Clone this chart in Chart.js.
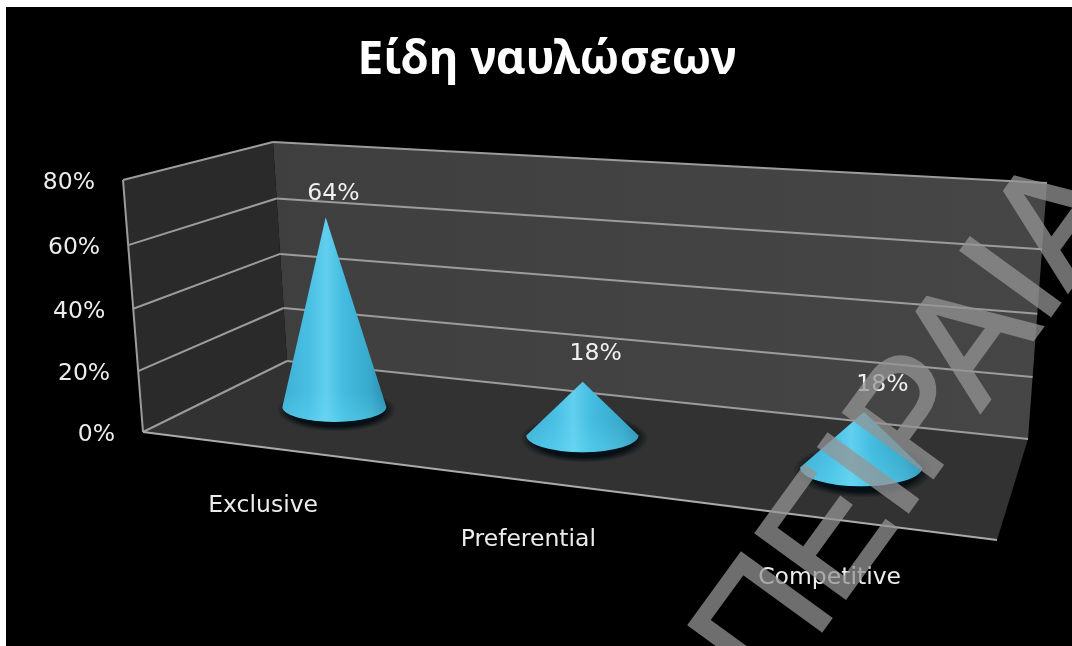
<!DOCTYPE html>
<html lang="el">
<head>
<meta charset="utf-8">
<title>Είδη ναυλώσεων</title>
<style>
  html, body { margin: 0; padding: 0; background: #fff; overflow: hidden; }
  #wrap { position: relative; width: 1072px; height: 646px; }
</style>
<script src="https://cdn.jsdelivr.net/npm/chart.js@4/dist/chart.umd.js"></script>
</head>
<body>
<div id="wrap"><canvas id="chart" width="1072" height="646"></canvas></div>
<script>
// Chart content
const chartTitle = 'Είδη ναυλώσεων';
const categories = ['Exclusive', 'Preferential', 'Competitive'];
const shareValues = [64, 18, 18];
const axisMax = 80;
const axisStep = 20;
const stampText = 'ΠΕΙΡΑΙΑ';

// Corners of the 3D box on the canvas: floor quad and the upward edge vectors
const FLOOR = { bl: [287, 361], br: [1028, 439], fr: [997, 540], fl: [143, 432] };
const RISE = { bl: [-14, -219], br: [19, -256], fr: [20, -262], fl: [-20, -252] };
const CONE_DEPTH = 0.5;
const FONT = '"DejaVu Sans", sans-serif';
const TEXT_SIZE = 23.5;

// Unit square to quad homography
function unitToQuad(q) {
  const [x0, y0] = q.bl, [x1, y1] = q.br, [x2, y2] = q.fr, [x3, y3] = q.fl;
  const dx1 = x1 - x2, dx2 = x3 - x2, sx = x0 - x1 + x2 - x3;
  const dy1 = y1 - y2, dy2 = y3 - y2, sy = y0 - y1 + y2 - y3;
  const den = dx1 * dy2 - dx2 * dy1;
  const g = (sx * dy2 - dx2 * sy) / den;
  const h = (dx1 * sy - sx * dy1) / den;
  const a = x1 - x0 + g * x1, b = x3 - x0 + h * x3;
  const d = y1 - y0 + g * y1, e = y3 - y0 + h * y3;
  return (u, w) => {
    const s = g * u + h * w + 1;
    return [(a * u + b * w + x0) / s, (d * u + e * w + y0) / s];
  };
}
const floorAt = unitToQuad(FLOOR);

function lerp(a, b, t) { return a + (b - a) * t; }

// Project (along category axis, into the depth, up the value axis) to canvas
function project(u, w, v) {
  const base = floorAt(u, w);
  const lift = v / (1 + 0.045 * (1 - v));
  const rx = lerp(lerp(RISE.bl[0], RISE.br[0], u), lerp(RISE.fl[0], RISE.fr[0], u), w);
  const ry = lerp(lerp(RISE.bl[1], RISE.br[1], u), lerp(RISE.fl[1], RISE.fr[1], u), w);
  return [base[0] + rx * lift, base[1] + ry * lift];
}

function polygon(ctx, pts) {
  ctx.beginPath();
  pts.forEach((p, i) => (i ? ctx.lineTo(p[0], p[1]) : ctx.moveTo(p[0], p[1])));
  ctx.closePath();
}

function line(ctx, a, b) {
  ctx.beginPath();
  ctx.moveTo(a[0], a[1]);
  ctx.lineTo(b[0], b[1]);
  ctx.stroke();
}

// Cone series: a bar controller whose rectangles are drawn as cones on the floor
class ConeController extends Chart.BarController {
  static id = 'cone';
  static defaults = { ...Chart.BarController.defaults };

  draw() {
    const ctx = this.chart.ctx;
    const area = this.chart.chartArea;
    const bars = this.getMeta().data;
    bars.forEach((bar, i) => {
      const u = (bar.x - area.left) / area.width;
      const v = (bar.base - bar.y) / area.height;
      const halfU = bar.width / 2 / area.width;
      const c = floorAt(u, CONE_DEPTH);
      // base widths vary less with depth than the floor projection alone
      const spanX = Math.abs(floorAt(u + halfU, CONE_DEPTH)[0] - floorAt(u - halfU, CONE_DEPTH)[0]) / 2;
      const rx = 0.7 * spanX + 17.5;
      const ry = Math.abs(floorAt(u, CONE_DEPTH + 0.2)[1] - floorAt(u, CONE_DEPTH - 0.2)[1]) / 2;
      const apex = project(u, CONE_DEPTH, v);
      drawCone(ctx, c[0], c[1], rx, ry, apex);

      ctx.save();
      ctx.font = TEXT_SIZE + 'px ' + FONT;
      ctx.fillStyle = '#f0f0f0';
      ctx.textAlign = 'center';
      ctx.textBaseline = 'middle';
      ctx.fillText(shareValues[i] + '%', apex[0] + lerp(5, 21, u), apex[1] - lerp(20.5, 27.5, Math.min(1, u * 2)));
      ctx.restore();
    });
  }
}
Chart.register(ConeController);

function drawCone(ctx, cx, cy, rx, ry, apex) {
  // soft contact shadow, slightly toward the lower right
  ctx.save();
  ctx.translate(cx + 2, cy + 3);
  ctx.scale(rx * 1.15, ry * 1.45);
  const halo = ctx.createRadialGradient(0, 0, 0, 0, 0, 1);
  halo.addColorStop(0, 'rgba(3,14,20,1)');
  halo.addColorStop(0.78, 'rgba(3,14,20,0.95)');
  halo.addColorStop(1, 'rgba(10,14,16,0)');
  ctx.fillStyle = halo;
  ctx.beginPath();
  ctx.arc(0, 0, 1, 0, Math.PI * 2);
  ctx.fill();
  ctx.restore();

  const outline = () => {
    ctx.beginPath();
    ctx.moveTo(apex[0], apex[1]);
    ctx.lineTo(cx - rx, cy);
    ctx.ellipse(cx, cy, rx, ry, 0, Math.PI, 0, true);
    ctx.closePath();
  };

  const body = ctx.createLinearGradient(cx - rx, 0, cx + rx, 0);
  body.addColorStop(0, '#3fb0d4');
  body.addColorStop(0.25, '#47bfe3');
  body.addColorStop(0.42, '#62cfee');
  body.addColorStop(0.58, '#44bde0');
  body.addColorStop(0.85, '#38a8cb');
  body.addColorStop(1, '#2b8db0');
  ctx.fillStyle = body;
  outline();
  ctx.fill();

  const glow = ctx.createLinearGradient(0, cy - ry, 0, cy + ry);
  glow.addColorStop(0, 'rgba(110,225,250,0)');
  glow.addColorStop(1, 'rgba(110,225,250,0.3)');
  ctx.fillStyle = glow;
  outline();
  ctx.fill();
}

// Backdrop, gridlines and axis text laid out in perspective from the scales
const boxPlugin = {
  id: 'box3d',
  beforeDraw(chart) {
    const ctx = chart.ctx;
    ctx.save();
    ctx.fillStyle = '#fff';
    ctx.fillRect(0, 0, chart.width, chart.height);
    ctx.fillStyle = '#000';
    ctx.fillRect(6, 7, chart.width - 6, chart.height - 7);
    ctx.restore();
  },
  beforeDatasetsDraw(chart) {
    const ctx = chart.ctx;
    const area = chart.chartArea;
    const yScale = chart.scales.y;
    const xScale = chart.scales.x;
    ctx.save();

    // floor
    ctx.fillStyle = '#323232';
    polygon(ctx, [project(0, 0, 0), project(1, 0, 0), project(1, 1, 0), project(0, 1, 0)]);
    ctx.fill();

    // back wall
    const back = ctx.createLinearGradient(273, 0, 1047, 0);
    back.addColorStop(0, '#3f3f3f');
    back.addColorStop(1, '#464646');
    ctx.fillStyle = back;
    polygon(ctx, [project(0, 0, 0), project(1, 0, 0), project(1, 0, 1), project(0, 0, 1)]);
    ctx.fill();

    // side wall
    ctx.fillStyle = '#2a2a2a';
    polygon(ctx, [project(0, 0, 0), project(0, 1, 0), project(0, 1, 1), project(0, 0, 1)]);
    ctx.fill();

    // gridlines and value labels
    ctx.strokeStyle = '#9c9c9c';
    ctx.lineWidth = 2;
    ctx.font = TEXT_SIZE + 'px ' + FONT;
    ctx.textAlign = 'right';
    ctx.textBaseline = 'middle';
    yScale.ticks.forEach((tick, i) => {
      const v = (area.bottom - yScale.getPixelForTick(i)) / area.height;
      const front = project(0, 1, v);
      const corner = project(0, 0, v);
      line(ctx, front, corner);
      line(ctx, corner, project(1, 0, v));
      ctx.fillStyle = '#ececec';
      ctx.fillText(tick.label, front[0] - 28, front[1] + 3);
    });

    // box edges
    line(ctx, project(0, 1, 0), project(0, 1, 1));
    ctx.strokeStyle = '#ababab';
    line(ctx, project(0, 1, 0), project(1, 1, 0));

    // category labels below the front edge
    ctx.textAlign = 'center';
    ctx.fillStyle = '#ececec';
    xScale.ticks.forEach((tick, i) => {
      const u = (xScale.getPixelForTick(i) - area.left) / area.width;
      const p = floorAt(u, 1);
      ctx.fillText(tick.label, p[0] - 1, p[1] + 59);
    });
    ctx.restore();
  },
  afterDraw(chart) {
    // diagonal stamp across the whole image, drawn on its own layer so that
    // the thickened glyph outline does not darken where it overlaps the fill
    const layer = document.createElement('canvas');
    layer.width = chart.width;
    layer.height = chart.height;
    const g = layer.getContext('2d');
    g.translate(771, 700);
    g.rotate(-54 * Math.PI / 180);
    g.scale(0.985, 1);
    g.font = '160px "Liberation Sans", sans-serif';
    g.textAlign = 'left';
    g.textBaseline = 'alphabetic';
    g.fillStyle = 'rgb(149,149,149)';
    g.strokeStyle = 'rgb(149,149,149)';
    g.lineWidth = 3.5;
    g.lineJoin = 'miter';
    g.fillText(stampText, 0, 0);
    g.strokeText(stampText, 0, 0);

    const ctx = chart.ctx;
    ctx.save();
    ctx.globalAlpha = 0.74;
    ctx.drawImage(layer, 0, 0);
    ctx.restore();
  }
};

new Chart(document.getElementById('chart'), {
  type: 'cone',
  plugins: [boxPlugin],
  data: {
    labels: categories,
    datasets: [{
      data: shareValues,
      categoryPercentage: 0.42,
      barPercentage: 1,
      backgroundColor: '#45bfe2'
    }]
  },
  options: {
    responsive: false,
    animation: false,
    layout: { padding: { left: 143, right: 121, top: 33, bottom: 100 } },
    scales: {
      x: { type: 'category', display: false, offset: true },
      y: {
        type: 'linear', display: false, min: 0, max: axisMax,
        ticks: { stepSize: axisStep, callback: v => v + '%' }
      }
    },
    plugins: {
      legend: { display: false },
      tooltip: { enabled: false },
      title: {
        display: true,
        text: chartTitle,
        fullSize: false,
        color: '#ffffff',
        padding: 0,
        font: { family: '"Noto Sans", sans-serif', size: 46, weight: 'bold' }
      }
    }
  }
});
</script>
</body>
</html>
